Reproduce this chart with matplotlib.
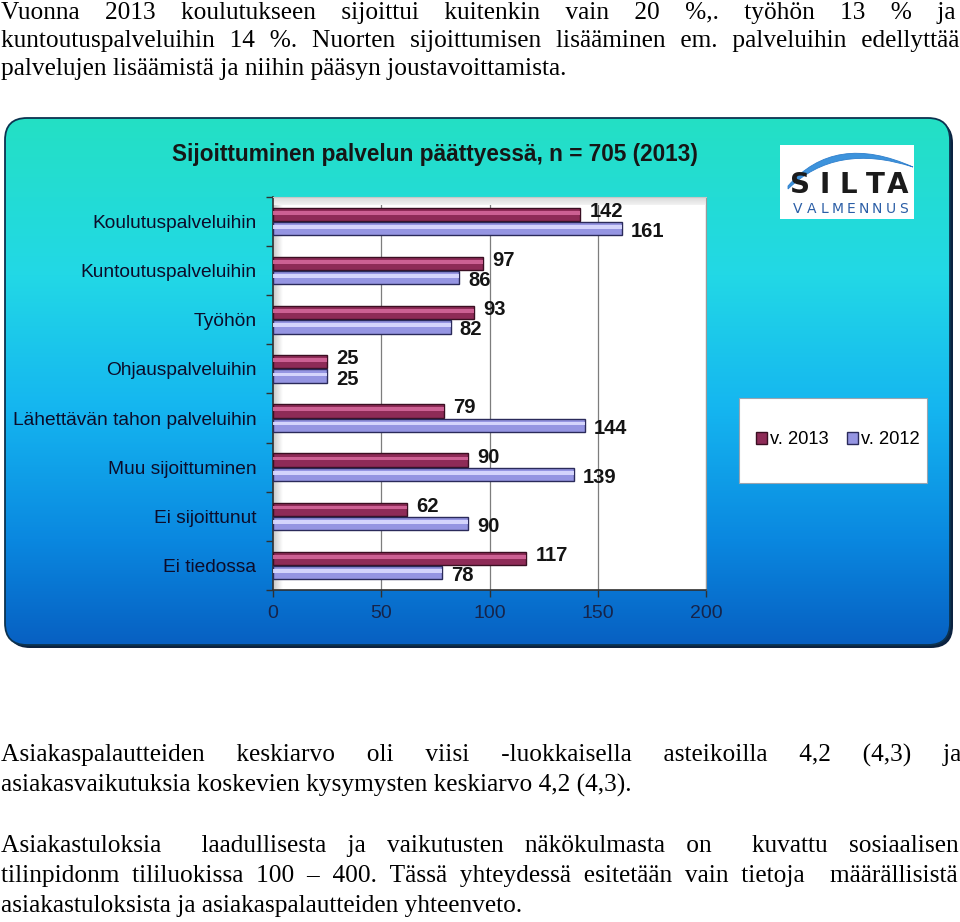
import numpy as np
import matplotlib
matplotlib.use("Agg")
import matplotlib.pyplot as plt
from matplotlib.patches import FancyBboxPatch, Rectangle, PathPatch, Patch
from matplotlib.path import Path
from matplotlib.colors import to_rgb

# ---------------- data ----------------
categories = ["Koulutuspalveluihin", "Kuntoutuspalveluihin", "Työhön", "Ohjauspalveluihin",
              "Lähettävän tahon palveluihin", "Muu sijoittuminen", "Ei sijoittunut", "Ei tiedossa"]
v2013 = [142, 97, 93, 25, 79, 90, 62, 117]
v2012 = [161, 86, 82, 25, 144, 139, 90, 78]
series_labels = ["v. 2013", "v. 2012"]
xticks = [0, 50, 100, 150, 200]
title = "Sijoittuminen palvelun päättyessä, n = 705 (2013)"

top_lines = [
    ("Vuonna 2013 koulutukseen sijoittui kuitenkin vain 20 %,. työhön 13 % ja", True),
    ("kuntoutuspalveluihin 14 %. Nuorten sijoittumisen lisääminen em. palveluihin edellyttää", True),
    ("palvelujen lisäämistä ja niihin pääsyn joustavoittamista.", False),
]
bottom_lines = [
    ("Asiakaspalautteiden keskiarvo oli viisi -luokkaisella asteikoilla 4,2 (4,3) ja", True),
    ("asiakasvaikutuksia koskevien kysymysten keskiarvo 4,2 (4,3).", False),
    ("Asiakastuloksia  laadullisesta ja vaikutusten näkökulmasta on  kuvattu sosiaalisen", True),
    ("tilinpidonm tililuokissa 100 – 400. Tässä yhteydessä esitetään vain tietoja  määrällisistä", True),
    ("asiakastuloksista ja asiakaspalautteiden yhteenveto.", False),
]

# ---------------- figure ----------------
W, H = 960, 922
fig = plt.figure(figsize=(9.6, 9.22), dpi=100)
fig.patch.set_facecolor("white")
bg = fig.add_axes([0, 0, 1, 1])
bg.set_xlim(0, W)
bg.set_ylim(H, 0)
bg.axis("off")

# panel with gradient
px0, py0, pw, ph = 5, 118, 945, 527
shadow = FancyBboxPatch((px0 + 3, py0 + 3), pw, ph, boxstyle="round,pad=0,rounding_size=22",
                        facecolor="#0b2240", edgecolor="none", zorder=1)
bg.add_patch(shadow)
panel = FancyBboxPatch((px0, py0), pw, ph, boxstyle="round,pad=0,rounding_size=22",
                       facecolor="none", edgecolor="#0c3350", linewidth=1.3, zorder=3)
bg.add_patch(panel)
stops = [(0.0, "#24e0c4"), (0.3, "#22d8e6"), (0.55, "#15b6f0"), (0.8, "#0a88e0"), (1.0, "#0760c2")]
n = 300
t = np.linspace(0, 1, n)
sp = [s[0] for s in stops]
cols = np.array([to_rgb(s[1]) for s in stops])
grad = np.stack([np.interp(t, sp, cols[:, k]) for k in range(3)], axis=1)[:, None, :]
im = bg.imshow(grad, extent=(px0, px0 + pw, py0 + ph, py0), origin="upper",
               aspect="auto", interpolation="bilinear", zorder=2)
im.set_clip_path(panel)
bg.set_xlim(0, W)
bg.set_ylim(H, 0)

# title
bg.text(435, 155, title, ha="center", va="center", fontsize=16.3, fontweight="bold",
        family="Liberation Sans", color="#161616", zorder=4)

# logo
bg.add_patch(Rectangle((780, 145), 134, 74, facecolor="white", edgecolor="none", zorder=4))
verts = [(788, 186), (835, 132), (913, 167), (913, 167), (836, 142), (788, 189), (788, 186)]
codes = [Path.MOVETO, Path.CURVE3, Path.CURVE3, Path.LINETO, Path.CURVE3, Path.CURVE3, Path.CLOSEPOLY]
bg.add_patch(PathPatch(Path(verts, codes), facecolor="#3d93dc", edgecolor="#2f7fcc", lw=0.6, zorder=5))
for ch, x in zip("SILTA", [800, 825, 848, 875, 898]):
    bg.text(x, 185, ch, ha="center", va="center", fontsize=20, fontweight="bold",
            family="DejaVu Sans", color="#1b1b1b", zorder=6)
for k, ch in enumerate("VALMENNUS"):
    bg.text(798 + k * 13.2, 209, ch, ha="center", va="center", fontsize=10,
            family="DejaVu Sans", color="#2b5ea6", zorder=6)

# legend box
bg.add_patch(Rectangle((739, 398), 188, 85, facecolor="white", edgecolor="#9aa4b0", lw=0.8, zorder=4))

# ---------------- bar chart ----------------
ax = fig.add_axes([273 / W, 1 - 590 / H, 433 / W, 393 / H])
ax.set_facecolor("white")
ax.set_zorder(5)
ypos = np.arange(len(categories))
h = 0.27
off = 0.145
c13, c13hi, e13 = "#8e2b57", "#d4679a", "#3a0f22"
c12, c12hi, e12 = "#9595e2", "#dcdcff", "#2a2a5a"

b13 = ax.barh(ypos - off, v2013, height=h, color=c13, edgecolor=e13, linewidth=1.0, zorder=3)
ax.barh(ypos - off - h * 0.12, v2013, height=h * 0.28, color=c13hi, linewidth=0, zorder=4, alpha=0.9)
b12 = ax.barh(ypos + off, v2012, height=h, color=c12, edgecolor=e12, linewidth=1.0, zorder=3)
ax.barh(ypos + off - h * 0.12, v2012, height=h * 0.28, color=c12hi, linewidth=0, zorder=4, alpha=0.9)

for yv, v in zip(ypos - off, v2013):
    ax.annotate(str(v), (v, yv), xytext=(9, 3), textcoords="offset pixels", ha="left", va="center",
                fontsize=14.5, fontweight="bold", family="Liberation Sans", color="#141414", zorder=6)
for yv, v in zip(ypos + off, v2012):
    ax.annotate(str(v), (v, yv), xytext=(9, -3), textcoords="offset pixels", ha="left", va="center",
                fontsize=14.5, fontweight="bold", family="Liberation Sans", color="#141414", zorder=6)

# 3D-ish walls
wall = np.linspace(0.78, 1.0, 50)[None, :]
ax.imshow(np.dstack([wall, wall, wall]), extent=(0, 4.5, 7.5, -0.5), aspect="auto", zorder=1)
top = np.linspace(0.85, 0.95, 20)[:, None]
ax.imshow(np.dstack([top, top, top]), extent=(0, 200, -0.34, -0.5), aspect="auto", zorder=1)

ax.set_xlim(0, 200)
ax.set_ylim(7.5, -0.5)
ax.set_xticks(xticks)
ax.set_xticklabels([str(x) for x in xticks])
ax.set_yticks(ypos)
ax.set_yticklabels(categories)
ax.set_yticks(np.arange(-0.5, len(categories), 1), minor=True)
ax.tick_params(axis="y", which="major", length=0, pad=12)
ax.tick_params(axis="y", which="minor", length=5, width=1, color="#303030", direction="out")
ax.tick_params(axis="x", length=5, width=1, color="#303030", pad=6)
for lab in ax.get_yticklabels():
    lab.set_fontsize(13.8)
    lab.set_family("Liberation Sans")
    lab.set_color("#0c0c2a")
for lab in ax.get_xticklabels():
    lab.set_fontsize(14)
    lab.set_family("Liberation Sans")
    lab.set_color("#16244a")
ax.xaxis.grid(True, color="#7d7d7d", linewidth=0.9, zorder=2)
ax.set_axisbelow(True)
for s in ["left", "bottom"]:
    ax.spines[s].set_color("#303030")
    ax.spines[s].set_linewidth(1.2)
ax.spines["right"].set_color("#9a9a9a")
ax.spines["top"].set_color("#c8c8c8")

handles = [Patch(facecolor=c13, edgecolor=e13), Patch(facecolor=c12, edgecolor=e12)]
ax.legend(handles, series_labels, loc="center", bbox_to_anchor=(838 / W, 1 - 440 / H),
          bbox_transform=fig.transFigure, ncol=2, frameon=False, handlelength=0.6,
          handleheight=0.6, handletextpad=0.15, columnspacing=1.0,
          prop={"family": "Liberation Sans", "size": 13.2})

# ---------------- body text (one Text per line; justified with Unicode spaces) ----------------
renderer = fig.canvas.get_renderer()
body_kw = dict(family=["Liberation Serif", "DejaVu Serif"], fontsize=18.3, color="black")


def text_width(s):
    tt = bg.text(0, 0, s, **body_kw)
    w = tt.get_window_extent(renderer=renderer).width
    tt.remove()
    return w


base_xx = text_width("xx")
space_set = ["\u2003", "\u2002", "\u2004", "\u2005", "\u2006", "\u2009", "\u200a", " "]
space_w = sorted([(text_width("x" + c + "x") - base_xx, c) for c in space_set], reverse=True)
space_w = [(w, c) for w, c in space_w if w > 0.5]
min_w = space_w[-1][0]


def spacer(g):
    out = ""
    r = g
    while r > min_w / 2:
        for w, c in space_w:
            if w <= r + min_w / 2:
                out += c
                r -= w
                break
        else:
            break
    return out or " "


def draw_line(s, y, justify, x0=1, x1=955):
    if not justify:
        bg.text(x0, y, s, ha="left", va="baseline", **body_kw)
        return
    tokens = s.split(" ")
    words, gaps = [], []
    cnt = 0
    for tk in tokens:
        if tk == "":
            cnt += 1
            continue
        if words:
            gaps.append(cnt)
        words.append(tk)
        cnt = 1
    widths = [text_width(w) for w in words]
    unit = (x1 - x0 - sum(widths)) / max(sum(gaps), 1)
    line = words[0]
    for g, w in zip(gaps, words[1:]):
        line += spacer(g * unit) + w
    bg.text(x0, y, line, ha="left", va="baseline", **body_kw)


for (s, j), y in zip(top_lines, [19, 47, 75]):
    draw_line(s, y, j)
for (s, j), y in zip(bottom_lines, [762, 792, 852, 882, 912]):
    draw_line(s, y, j)

fig.savefig("out.png", dpi=100)
